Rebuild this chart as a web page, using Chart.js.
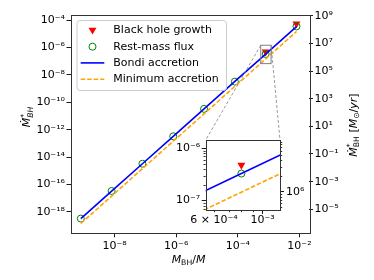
<!DOCTYPE html>
<html>
<head>
<meta charset="utf-8">
<script src="https://cdn.jsdelivr.net/npm/chart.js@4.4.0/dist/chart.umd.min.js"></script>
<style>
body { margin: 0; background: #fff; }
#wrap { position: relative; width: 374px; height: 280px; }
#main { position: absolute; left: 0; top: 0; }
#inset { position: absolute; left: 160px; top: 130px; }
</style>
</head>
<body>
<div id="wrap">
  <canvas id="main" width="374" height="280"></canvas>
  <canvas id="inset" width="150" height="100"></canvas>
</div>
<script>
// valores
const massRatio = [8e-10, 8e-9, 8e-8, 8e-7, 8e-6, 8e-5, 8e-4, 8e-3];
const restMassFlux = [3.3e-19, 3.4e-17, 3.3e-15, 3.3e-13, 3.3e-11, 3.2e-9, 3.3e-7, 3.4e-5];
const bondiRate = [3.3e-19, 3.3e-17, 3.3e-15, 3.3e-13, 3.3e-11, 3.3e-9, 3.3e-7, 3.3e-5];
const minimumRate = [1.45e-19, 1.45e-17, 1.45e-15, 1.45e-13, 1.45e-11, 1.45e-9, 1.45e-7, 1.45e-5];
const growthMass = [8e-4, 8e-3];
const growthRate = [4.8e-7, 5.3e-5];

const xTicks = [1e-8, 1e-6, 1e-4, 1e-2];
const leftTicks = [1e-18, 1e-16, 1e-14, 1e-12, 1e-10, 1e-8, 1e-6, 1e-4];
const rightTicks = [1e-5, 1e-3, 1e-1, 1e1, 1e3, 1e5, 1e7, 1e9];

const insetXRange = [5.53e-4, 1.2e-3];
const insetYRange = [6.6e-8, 1.45e-6];
const insetRightRange = [4.47e5, 9.7e6];
const insetXTicks = [6e-4, 1e-3];
const insetYTicks = [1e-7, 1e-6];
const insetRightTicks = [1e6];
const insetXMinor = [6e-4, 7e-4, 8e-4, 9e-4];
const insetYMinor = [7e-8, 8e-8, 9e-8, 2e-7, 3e-7, 4e-7, 5e-7, 6e-7, 7e-7, 8e-7, 9e-7];
const insetRightMinor = [5e5, 6e5, 7e5, 8e5, 9e5, 2e6, 3e6, 4e6, 5e6, 6e6, 7e6, 8e6, 9e6];

const FONT = 'DejaVu Sans';
Chart.defaults.font.family = FONT;
Chart.defaults.color = '#000';

const sup = {'-': '\u207B', '0': '\u2070', '1': '\u00B9', '2': '\u00B2', '3': '\u00B3', '4': '\u2074', '5': '\u2075', '6': '\u2076', '7': '\u2077', '8': '\u2078', '9': '\u2079'};
function pow10(v) {
    const e = Math.round(Math.log10(v));
    return '10' + String(e).split('').map(c => sup[c]).join('');
}
function insetLabel(v) {
    if (Math.abs(v - 6e-4) < 1e-6) return '6 \u00D7 10\u207B\u2074';
    return pow10(v);
}

function points(xs, ys) {
    return xs.map((x, i) => ({x: x, y: ys[i]}));
}

function makeDatasets() {
    return [
        {
            label: 'Black hole growth',
            data: points(growthMass, growthRate),
            pointStyle: 'triangle',
            pointRotation: 180,
            pointRadius: 4.6,
            pointBackgroundColor: '#ff0000',
            pointBorderColor: '#ff0000',
            pointBorderWidth: 0,
            order: 4
        },
        {
            label: 'Rest-mass flux',
            data: points(massRatio, restMassFlux),
            pointStyle: 'circle',
            pointRadius: 3.5,
            pointBackgroundColor: 'rgba(0,0,0,0)',
            pointBorderColor: '#008000',
            pointBorderWidth: 1,
            order: 3
        },
        {
            label: 'Bondi accretion',
            data: points(massRatio, bondiRate),
            showLine: true,
            pointRadius: 0,
            borderColor: '#0000ff',
            borderWidth: 1.6,
            order: 2
        },
        {
            label: 'Minimum accretion',
            data: points(massRatio, minimumRate),
            showLine: true,
            pointRadius: 0,
            borderColor: '#ffa500',
            borderWidth: 1.6,
            borderDash: [4.5, 2],
            order: 1
        }
    ];
}

function logAxis(opts) {
    return {
        type: 'logarithmic',
        position: opts.position,
        min: opts.min,
        max: opts.max,
        afterBuildTicks: s => { s.ticks = opts.ticks.map(v => ({value: v})); },
        afterFit: s => { if (opts.width !== undefined) s.width = opts.width; if (opts.height !== undefined) s.height = opts.height; },
        ticks: {
            callback: opts.label || (v => pow10(v)),
            font: {size: 11},
            color: '#000',
            autoSkip: false,
            maxRotation: 0,
            padding: opts.padding
        },
        grid: {
            drawOnChartArea: false,
            tickLength: 4,
            tickColor: opts.tickColor || '#000',
            tickWidth: 0.9
        },
        border: {display: false}
    };
}

// texto com sub/sobrescritos
function drawRich(ctx, parts, x, y, angle) {
    ctx.save();
    ctx.translate(x, y);
    ctx.rotate(angle);
    ctx.fillStyle = '#000';
    ctx.textBaseline = 'alphabetic';
    ctx.textAlign = 'left';
    let cur = 0, lastStart = 0;
    const pos = [];
    parts.forEach(p => {
        ctx.font = (p.italic ? 'italic ' : '') + p.size + 'px "' + FONT + '"';
        const w = ctx.measureText(p.text).width;
        if (p.stack) { pos.push(lastStart); cur = Math.max(cur, lastStart + w); }
        else { pos.push(cur); lastStart = cur; cur += w; }
    });
    parts.forEach((p, i) => {
        ctx.font = (p.italic ? 'italic ' : '') + p.size + 'px "' + FONT + '"';
        ctx.fillText(p.text, pos[i] - cur / 2, p.dy || 0);
    });
    ctx.restore();
}

function frame(ctx, a, color) {
    ctx.save();
    ctx.strokeStyle = color;
    ctx.lineWidth = 1;
    ctx.strokeRect(Math.round(a.left) + 0.5, Math.round(a.top) + 0.5, Math.round(a.right - a.left), Math.round(a.bottom - a.top));
    ctx.restore();
}

// ---------- inset ----------
const insetPlugin = {
    id: 'insetDeco',
    beforeDraw(chart) {
        const a = chart.chartArea, ctx = chart.ctx;
        ctx.save();
        ctx.fillStyle = '#fff';
        ctx.fillRect(a.left, a.top, a.right - a.left, a.bottom - a.top);
        ctx.restore();
    },
    afterDraw(chart) {
        const a = chart.chartArea, ctx = chart.ctx;
        const sx = chart.scales.x, sy = chart.scales.y, sr = chart.scales.y2;
        ctx.save();
        ctx.strokeStyle = '#000';
        ctx.lineWidth = 0.8;
        ctx.beginPath();
        insetXMinor.forEach(v => { const px = Math.round(sx.getPixelForValue(v)) + 0.5; ctx.moveTo(px, a.bottom); ctx.lineTo(px, a.bottom + 2.2); });
        insetYMinor.forEach(v => { const py = Math.round(sy.getPixelForValue(v)) + 0.5; ctx.moveTo(a.left, py); ctx.lineTo(a.left - 2.2, py); });
        insetRightMinor.forEach(v => { const py = Math.round(sr.getPixelForValue(v)) + 0.5; ctx.moveTo(a.right, py); ctx.lineTo(a.right + 2.2, py); });
        ctx.stroke();
        ctx.restore();
        frame(ctx, a, '#333');
    }
};

const insetChart = new Chart(document.getElementById('inset').getContext('2d'), {
    type: 'scatter',
    data: {datasets: makeDatasets()},
    options: {
        responsive: false,
        animation: false,
        events: [],
        layout: {padding: {top: 10, left: 0, right: 0, bottom: 0}},
        plugins: {legend: {display: false}, tooltip: {enabled: false}},
        scales: {
            x: logAxis({position: 'bottom', min: insetXRange[0], max: insetXRange[1], ticks: insetXTicks, label: insetLabel, height: 20, padding: 0,
                tickColor: c => (c.tick && Math.abs(c.tick.value - 6e-4) < 1e-6) ? 'rgba(0,0,0,0)' : '#000'}),
            y: logAxis({position: 'left', min: insetYRange[0], max: insetYRange[1], ticks: insetYTicks, width: 45.7, padding: 1.5}),
            y2: logAxis({position: 'right', min: insetRightRange[0], max: insetRightRange[1], ticks: insetRightTicks, width: 30, padding: 2})
        }
    },
    plugins: [insetPlugin]
});

// ---------- grafico principal ----------
const INSET_LEFT = 160, INSET_TOP = 130;

const mainPlugin = {
    id: 'mainDeco',
    afterDatasetsDraw(chart) {
        const ctx = chart.ctx, a = chart.chartArea;
        const sx = chart.scales.x, sy = chart.scales.y;
        frame(ctx, a, '#333');

        // retangulo do zoom e linhas de ligacao
        const bx0 = sx.getPixelForValue(insetXRange[0]), bx1 = sx.getPixelForValue(insetXRange[1]);
        const by0 = sy.getPixelForValue(insetYRange[1]), by1 = sy.getPixelForValue(insetYRange[0]);
        const ia = insetChart.chartArea;
        ctx.save();
        ctx.strokeStyle = '#808080';
        ctx.lineWidth = 1;
        ctx.strokeRect(bx0, by0, bx1 - bx0, by1 - by0);
        ctx.setLineDash([3, 2]);
        ctx.lineWidth = 0.8;
        ctx.beginPath();
        ctx.moveTo(bx0, by0);
        ctx.lineTo(INSET_LEFT + ia.left, INSET_TOP + ia.top);
        ctx.moveTo(bx1, by0);
        ctx.lineTo(INSET_LEFT + ia.right, INSET_TOP + ia.top);
        ctx.stroke();
        ctx.restore();
    },
    afterDraw(chart) {
        const ctx = chart.ctx;
        const ds = chart.data.datasets;

        // legenda
        const lx = 76.5, ly = 20, lw = 149.5, lh = 70;
        ctx.save();
        ctx.beginPath();
        ctx.roundRect(lx + 0.5, ly + 0.5, lw, lh, 3);
        ctx.fillStyle = 'rgba(255,255,255,0.8)';
        ctx.fill();
        ctx.strokeStyle = '#cccccc';
        ctx.lineWidth = 1;
        ctx.stroke();

        const rows = [30, 46.7, 62.9, 79.3];
        const hx0 = 80.7, hx1 = 104.3, hc = 92.5;
        // triangulo
        const r = 4.6;
        ctx.beginPath();
        ctx.moveTo(hc, rows[0] + r);
        ctx.lineTo(hc - r * Math.sin(Math.PI / 3), rows[0] - r / 2);
        ctx.lineTo(hc + r * Math.sin(Math.PI / 3), rows[0] - r / 2);
        ctx.closePath();
        ctx.fillStyle = ds[0].pointBackgroundColor;
        ctx.fill();
        // circulo
        ctx.beginPath();
        ctx.arc(hc, rows[1], 3.5, 0, Math.PI * 2);
        ctx.strokeStyle = ds[1].pointBorderColor;
        ctx.lineWidth = 1;
        ctx.stroke();
        // linhas
        ctx.lineWidth = 1.6;
        ctx.strokeStyle = ds[2].borderColor;
        ctx.beginPath(); ctx.moveTo(hx0, rows[2]); ctx.lineTo(hx1, rows[2]); ctx.stroke();
        ctx.strokeStyle = ds[3].borderColor;
        ctx.setLineDash(ds[3].borderDash);
        ctx.beginPath(); ctx.moveTo(hx0, rows[3]); ctx.lineTo(hx1, rows[3]); ctx.stroke();
        ctx.setLineDash([]);

        ctx.fillStyle = '#000';
        ctx.font = '11px "' + FONT + '"';
        ctx.textBaseline = 'middle';
        ctx.textAlign = 'left';
        ds.forEach((d, i) => ctx.fillText(d.label, 113.3, rows[i]));
        ctx.restore();

        // titulos dos eixos
        drawRich(ctx, [
            {text: 'M', italic: true, size: 11},
            {text: 'BH', size: 7.7, dy: 2.6},
            {text: '/', size: 11},
            {text: 'M', italic: true, size: 11}
        ], 188.5, 262.5, 0);

        drawRich(ctx, [
            {text: '\u1E40', italic: true, size: 11},
            {text: '*', size: 7.7, dy: -4.5},
            {text: 'BH', italic: true, size: 7.7, dy: 2.6, stack: true}
        ], 30, 117, -Math.PI / 2);

        drawRich(ctx, [
            {text: '\u1E40', italic: true, size: 11},
            {text: '*', size: 7.7, dy: -4.5},
            {text: 'BH', size: 7.7, dy: 2.6, stack: true},
            {text: ' [', size: 11},
            {text: 'M', italic: true, size: 11},
            {text: '\u2299', size: 7.7, dy: 2.6},
            {text: '/', size: 11},
            {text: 'yr', italic: true, size: 11},
            {text: ']', size: 11}
        ], 356.5, 125, -Math.PI / 2);
    }
};

const mainChart = new Chart(document.getElementById('main').getContext('2d'), {
    type: 'scatter',
    data: {datasets: makeDatasets()},
    options: {
        responsive: false,
        animation: false,
        events: [],
        layout: {padding: {top: 15, left: 0, right: 0, bottom: 0}},
        plugins: {legend: {display: false}, tooltip: {enabled: false}},
        scales: {
            x: logAxis({position: 'bottom', min: 3.7e-10, max: 2.04e-2, ticks: xTicks, height: 46.7, padding: 2}),
            y: logAxis({position: 'left', min: 2.79e-20, max: 2.32e-4, ticks: leftTicks, width: 70.5, padding: 1.5}),
            y2: logAxis({position: 'right', min: 1.84e-7, max: 1.12e9, ticks: rightTicks, width: 65, padding: 1.5})
        }
    },
    plugins: [mainPlugin]
});
</script>
</body>
</html>
